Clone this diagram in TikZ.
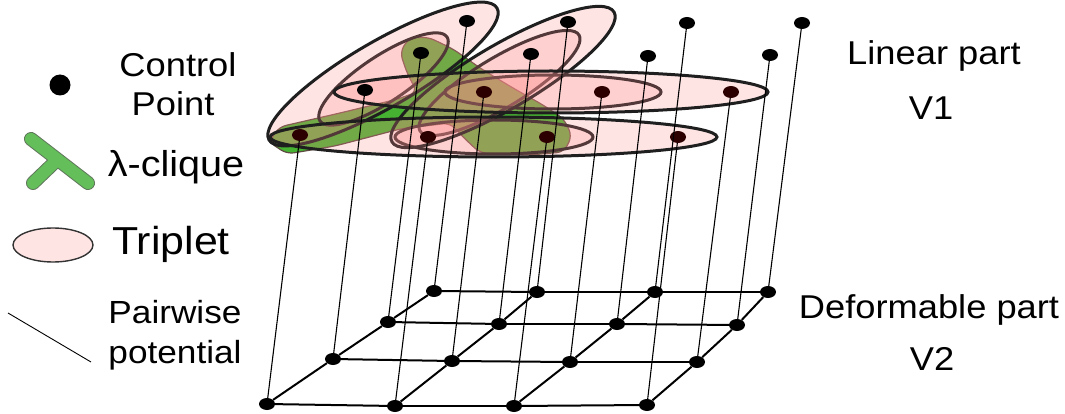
\documentclass[tikz,border=0pt]{standalone}
\usepackage{fontspec}
\setmainfont{Liberation Sans}
\usetikzlibrary{calc,shapes.geometric}
\definecolor{pinkc}{RGB}{255,140,140}
\definecolor{legpink}{RGB}{255,228,228}
\definecolor{maroonpt}{RGB}{45,0,0}
\definecolor{biggreen}{RGB}{70,178,50}
\definecolor{bigedge}{RGB}{95,75,65}
\definecolor{lamfill}{RGB}{100,190,90}
\definecolor{lamedge}{RGB}{95,120,90}
\newcommand\wt[1]{\scalebox{1.1}[1]{#1}}
\newcommand\trip[5]{%
  \path[trip] let \p1=(#1,#2), \p2=(#3,#4),
    \n1={atan2(\y2-\y1,\x2-\x1)}, \n2={veclen(\x2-\x1,\y2-\y1)/2} in
    ($(\p1)!0.5!(\p2)$) ellipse [x radius=\n2, y radius=#5pt, rotate=\n1];}
\tikzset{
  pt/.style={ellipse, fill=black, minimum width=16pt, minimum height=12pt, inner sep=0pt},
  mpt/.style={pt, fill=maroonpt},
  conn/.style={line width=1.1pt, black},
  gridln/.style={line width=2pt, black},
  trip/.style={fill=pinkc, fill opacity=0.23, draw=black!88, line width=3pt},
  txt/.style={anchor=base, inner sep=0pt},
}
\begin{document}
\begin{tikzpicture}[x=1pt, y=-1pt]
\useasboundingbox (0,0) rectangle (1065,414);

% ---- green lambda clique
\draw[fill=biggreen, draw=bigedge, line width=1.2pt, rounded corners=7pt]
  (400,52) -- (409,38) -- (428,37) -- (453,49) -- (483,70) -- (513,88) -- (543,105)
  -- (564,119) -- (572,136) -- (564,152) -- (530,155) -- (480,153) -- (463,137)
  -- (450,123) -- (400,129) -- (335,146) -- (287,154) -- (269,142) -- (279,127)
  -- (340,113) -- (398,99) -- (417,92) -- (407,73) -- cycle;

% ---- triplets (inner first, outer after)
\trip{320}{121}{447}{37}{23}
\trip{420}{131}{579}{35}{25}
\trip{395}{137}{593}{137}{17}
\trip{445}{92}{661}{92}{17}
\trip{269}{140}{497}{8}{33}
\trip{392}{142}{614}{12}{32}
\trip{334}{92}{768}{92}{21}
\trip{270}{137}{717}{137}{20}

% ---- top control points (V1)
\node[mpt] (t00) at (300,135) {};
\node[mpt] (t01) at (428,137) {};
\node[mpt] (t02) at (547,137) {};
\node[mpt] (t03) at (678,137) {};
\node[pt]  (t10) at (365,90) {};
\node[mpt] (t11) at (484,92) {};
\node[mpt] (t12) at (602,92) {};
\node[mpt] (t13) at (731,92) {};
\node[pt]  (t20) at (421,53) {};
\node[pt]  (t21) at (531,54) {};
\node[pt]  (t22) at (648,56) {};
\node[pt]  (t23) at (770,55) {};
\node[pt]  (t30) at (467,21) {};
\node[pt]  (t31) at (568,22) {};
\node[pt]  (t32) at (687,23) {};
\node[pt]  (t33) at (802,23) {};

% ---- bottom grid points (V2)
\node[pt] (b00) at (267,404) {};
\node[pt] (b01) at (395,406) {};
\node[pt] (b02) at (514,406) {};
\node[pt] (b03) at (647,405) {};
\node[pt] (b10) at (333,359) {};
\node[pt] (b11) at (452,361) {};
\node[pt] (b12) at (570,362) {};
\node[pt] (b13) at (697,362) {};
\node[pt] (b20) at (388,322) {};
\node[pt] (b21) at (499,324) {};
\node[pt] (b22) at (617,324) {};
\node[pt] (b23) at (737,325) {};
\node[pt] (b30) at (434,291) {};
\node[pt] (b31) at (537,292) {};
\node[pt] (b32) at (655,292) {};
\node[pt] (b33) at (768,292) {};

% ---- grid edges
\foreach \r in {0,1,2,3}{
  \draw[gridln] (b\r0) -- (b\r1);
  \draw[gridln] (b\r1) -- (b\r2);
  \draw[gridln] (b\r2) -- (b\r3);
}
\foreach \c in {0,1,2,3}{
  \draw[gridln] (b0\c) -- (b1\c);
  \draw[gridln] (b1\c) -- (b2\c);
  \draw[gridln] (b2\c) -- (b3\c);
}
% ---- pairwise potentials between layers
\foreach \r in {0,1,2,3}{
  \foreach \c in {0,1,2,3}{
    \draw[conn] (t\r\c) -- (b\r\c);
  }
}

% ---- legend
\node[circle, fill=black, minimum size=21pt, inner sep=0pt] (legdot) at (60,85) {};
\node[txt, font=\fontsize{33}{33}\selectfont] (lcontrol) at (178,77) {\wt{Control}};
\node[txt, font=\fontsize{33}{33}\selectfont] (lpoint) at (173,116) {\wt{Point}};

\draw[line width=14pt, line cap=round, draw=lamedge] (31,139) -- (88,183) (33,183) -- (57,160);
\draw[line width=12pt, line cap=round, draw=lamfill] (31,139) -- (88,183) (33,183) -- (57,160);
\node[txt, font=\fontsize{36}{36}\selectfont] (llam) at (176,177) {\wt{λ-clique}};

\draw[fill=legpink, draw=black!80, line width=1.4pt] (53,245) ellipse [x radius=40pt, y radius=17pt];
\node[txt, font=\fontsize{39}{39}\selectfont] (ltrip) at (171,254) {\wt{Triplet}};

\coordinate (lp1) at (8,313);
\coordinate (lp2) at (91,362);
\draw[line width=0.9pt] (lp1) -- (lp2);
\node[txt, font=\fontsize{32}{32}\selectfont] (lpair) at (175,323) {\wt{Pairwise}};
\node[txt, font=\fontsize{32}{32}\selectfont] (lpot) at (175,363) {\wt{potential}};

% ---- layer labels
\node[txt, font=\fontsize{33}{33}\selectfont] (lin) at (934,65) {\wt{Linear part}};
\node[txt, font=\fontsize{33}{33}\selectfont] (v1) at (931,120) {\wt{V1}};
\node[txt, font=\fontsize{33}{33}\selectfont] (def) at (929,318) {\wt{Deformable part}};
\node[txt, font=\fontsize{33}{33}\selectfont] (v2) at (932,370) {\wt{V2}};
\end{tikzpicture}
\end{document}
